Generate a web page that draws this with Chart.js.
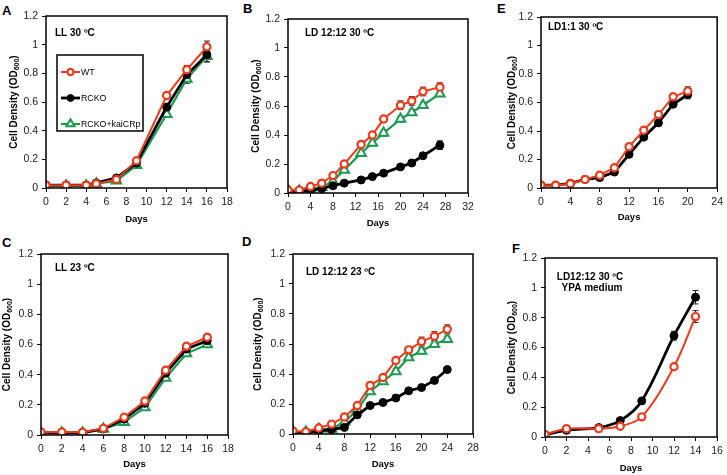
<!DOCTYPE html>
<html>
<head>
<meta charset="utf-8">
<script src="https://cdn.jsdelivr.net/npm/chart.js@4.4.1/dist/chart.umd.min.js"></script>
<style>
  body { margin: 0; background: #fff; }
  #wrap { position: relative; width: 727px; height: 475px; overflow: hidden; }
  #wrap canvas { position: absolute; }
  .tag { position: absolute; font: bold 13px "Liberation Sans", Arial, sans-serif; color: #000; }
</style>
</head>
<body>
<div id="wrap">
  <div class="tag" style="left:2px;top:3px">A</div>
  <div class="tag" style="left:243px;top:1px">B</div>
  <div class="tag" style="left:497px;top:1px">E</div>
  <div class="tag" style="left:2px;top:235px">C</div>
  <div class="tag" style="left:242px;top:234px">D</div>
  <div class="tag" style="left:512px;top:241px">F</div>
</div>
<script>
// A: LL 30 C
const daysA = [0, 2, 4, 5, 7, 9, 12, 14, 16];
const wtA   = [0.02, 0.02, 0.02, 0.03, 0.06, 0.19, 0.645, 0.825, 0.985];
const rckoA = [0.02, 0.02, 0.02, 0.035, 0.07, 0.175, 0.565, 0.79, 0.93];
const kaiA  = [0.015, 0.015, 0.015, 0.03, 0.05, 0.158, 0.515, 0.76, 0.92];
const wtErrA   = [0, 0, 0, 0, 0, 0.01, 0.02, 0.03, 0.04];
const rckoErrA = [0, 0, 0, 0, 0, 0.01, 0.02, 0.03, 0.05];
const kaiErrA  = [0, 0, 0, 0, 0, 0.01, 0.02, 0.03, 0.04];

// B: LD 12:12 30 C
const daysB = [0, 2, 4, 6, 8, 10, 13, 15, 17, 20, 22, 24, 27];
const wtB   = [0.02, 0.02, 0.045, 0.068, 0.12, 0.2, 0.335, 0.4, 0.51, 0.605, 0.635, 0.7, 0.73];
const rckoB = [0.01, 0.01, 0.02, 0.03, 0.05, 0.068, 0.09, 0.113, 0.137, 0.18, 0.207, 0.257, 0.33];
const kaiB  = [0.02, 0.015, 0.03, 0.04, 0.08, 0.158, 0.275, 0.345, 0.413, 0.51, 0.555, 0.605, 0.685];
const wtErrB   = [0, 0, 0, 0, 0, 0.01, 0.02, 0.02, 0.02, 0.03, 0.03, 0.03, 0.03];
const rckoErrB = [0, 0, 0, 0, 0, 0, 0, 0, 0, 0.01, 0.01, 0.01, 0.03];
const kaiErrB  = [0, 0, 0, 0, 0, 0.01, 0.01, 0.02, 0.02, 0.02, 0.02, 0.02, 0.02];

// E: LD1:1 30 C
const daysE = [0, 2, 4, 6, 8, 10, 12, 14, 16, 18, 20];
const wtE   = [0.02, 0.02, 0.03, 0.06, 0.09, 0.142, 0.29, 0.405, 0.515, 0.64, 0.68];
const rckoE = [0.02, 0.02, 0.033, 0.06, 0.073, 0.112, 0.236, 0.357, 0.457, 0.588, 0.656];
const wtErrE   = [0, 0, 0, 0, 0, 0, 0.01, 0.01, 0.01, 0.02, 0.03];
const rckoErrE = [0, 0, 0, 0, 0, 0, 0.01, 0.01, 0.01, 0.02, 0.03];

// C: LL 23 C
const daysC = [0, 2, 4, 6, 8, 10, 12, 14, 16];
const wtC   = [0.02, 0.02, 0.018, 0.044, 0.118, 0.225, 0.43, 0.588, 0.648];
const rckoC = [0.015, 0.015, 0.015, 0.04, 0.105, 0.21, 0.41, 0.57, 0.625];
const kaiC  = [0.015, 0.015, 0.015, 0.04, 0.085, 0.183, 0.378, 0.54, 0.6];
const wtErrC   = [0, 0, 0, 0, 0, 0, 0.01, 0.02, 0.02];
const rckoErrC = [0, 0, 0, 0, 0, 0, 0.01, 0.02, 0.02];
const kaiErrC  = [0, 0, 0, 0, 0, 0, 0.01, 0.02, 0.02];

// D: LD 12:12 23 C
const daysD = [0, 2, 4, 6, 8, 10, 12, 14, 16, 18, 20, 22, 24];
const wtD   = [0.02, 0.015, 0.04, 0.066, 0.113, 0.19, 0.324, 0.377, 0.49, 0.561, 0.616, 0.652, 0.698];
const rckoD = [0.01, 0.01, 0.02, 0.03, 0.044, 0.128, 0.19, 0.21, 0.24, 0.288, 0.31, 0.357, 0.43];
const kaiD  = [0.015, 0.015, 0.033, 0.033, 0.08, 0.162, 0.284, 0.35, 0.417, 0.51, 0.554, 0.599, 0.632];
const wtErrD   = [0, 0, 0, 0, 0, 0.01, 0.01, 0.01, 0.02, 0.02, 0.03, 0.03, 0.03];
const rckoErrD = [0, 0, 0, 0, 0, 0, 0, 0, 0, 0, 0, 0.01, 0.01];
const kaiErrD  = [0, 0, 0, 0, 0, 0.01, 0.01, 0.01, 0.02, 0.02, 0.02, 0.02, 0.02];

// F: LD12:12 30 C, YPA medium
const daysF = [0, 2, 5, 7, 9, 12, 14];
const wtF   = [0.016, 0.056, 0.056, 0.072, 0.135, 0.471, 0.807];
const rckoF = [0.016, 0.045, 0.063, 0.11, 0.242, 0.679, 0.937];
const wtErrF   = [0, 0, 0, 0, 0.01, 0.01, 0.04];
const rckoErrF = [0, 0, 0, 0, 0.01, 0.03, 0.045];

const yTicks = [0, 0.2, 0.4, 0.6, 0.8, 1, 1.2];
const seriesNames = ["WT", "RCKO", "RCKO+kaiCRp"];

const RED = "#ee3a1c";
const GREEN = "#1d9a52";
const BLACK = "#000000";
const FONT = '"Liberation Sans", Arial, sans-serif';

function pts(days, vals) {
    return days.map((d, i) => ({ x: d, y: vals[i] }));
}

function wtSet(days, vals, errs, smooth) {
    return {
        label: seriesNames[0], data: pts(days, vals), errors: errs,
        borderColor: RED, borderWidth: 2, backgroundColor: "#fff",
        pointStyle: "circle", pointRadius: 3.6, pointBorderWidth: 2.2, pointBorderColor: RED,
        tension: smooth ? 0.35 : 0
    };
}
function rckoSet(days, vals, errs, smooth) {
    return {
        label: seriesNames[1], data: pts(days, vals), errors: errs,
        borderColor: BLACK, borderWidth: 2.8, backgroundColor: BLACK,
        pointStyle: "circle", pointRadius: 4, pointBorderWidth: 1, pointBorderColor: BLACK,
        tension: smooth ? 0.35 : 0
    };
}
function kaiSet(days, vals, errs) {
    return {
        label: seriesNames[2], data: pts(days, vals), errors: errs,
        borderColor: GREEN, borderWidth: 2.2, backgroundColor: "#fff",
        pointStyle: "triangle", pointRadius: 5.5, pointBorderWidth: 2, pointBorderColor: GREEN,
        tension: 0
    };
}

// error bars, frame, y title with subscript, notes and the boxed legend
const decorPlugin = {
    id: "decor",
    beforeDatasetsDraw(chart) {
        const ctx = chart.ctx;
        const xs = chart.scales.x, ys = chart.scales.y;
        ctx.save();
        ctx.strokeStyle = "#222";
        ctx.lineWidth = 1;
        chart.data.datasets.forEach(ds => {
            if (!ds.errors) return;
            ds.data.forEach((p, i) => {
                const e = ds.errors[i];
                if (!e) return;
                const px = xs.getPixelForValue(p.x);
                const y1 = ys.getPixelForValue(p.y - e);
                const y2 = ys.getPixelForValue(p.y + e);
                ctx.beginPath();
                ctx.moveTo(px, y1); ctx.lineTo(px, y2);
                ctx.moveTo(px - 3, y1); ctx.lineTo(px + 3, y1);
                ctx.moveTo(px - 3, y2); ctx.lineTo(px + 3, y2);
                ctx.stroke();
            });
        });
        ctx.restore();
    },
    afterDraw(chart, args, opts) {
        const ctx = chart.ctx;
        const a = chart.chartArea;
        ctx.save();
        // frame
        ctx.strokeStyle = "#000";
        ctx.lineWidth = 1.5;
        ctx.strokeRect(a.left, a.top, a.right - a.left, a.bottom - a.top);

        // y axis title with subscript
        const main = "Cell Density (OD";
        const sub = "600";
        const close = ")";
        ctx.fillStyle = "#000";
        ctx.textBaseline = "middle";
        ctx.textAlign = "left";
        ctx.font = "bold 10px " + FONT;
        const w1 = ctx.measureText(main).width;
        const w3 = ctx.measureText(close).width;
        ctx.font = "bold 7px " + FONT;
        const w2 = ctx.measureText(sub).width;
        const total = w1 + w2 + w3;
        ctx.translate(a.left - opts.titleGap, (a.top + a.bottom) / 2);
        ctx.rotate(-Math.PI / 2);
        ctx.font = "bold 10px " + FONT;
        ctx.fillText(main, -total / 2, 0);
        ctx.font = "bold 7px " + FONT;
        ctx.fillText(sub, -total / 2 + w1, 3);
        ctx.font = "bold 10px " + FONT;
        ctx.fillText(close, -total / 2 + w1 + w2, 0);
        ctx.setTransform(1, 0, 0, 1, 0, 0);

        // notes
        ctx.font = "bold 10px " + FONT;
        ctx.textAlign = opts.noteAlign || "left";
        opts.notes.forEach(n => ctx.fillText(n.text, a.left + n.dx, a.top + n.dy));

        // legend box
        if (opts.legend) {
            const lx = a.left + 11, ly = a.top + 39, lw = 86, lh = 76;
            ctx.fillStyle = "#fff";
            ctx.fillRect(lx, ly, lw, lh);
            ctx.strokeStyle = "#000";
            ctx.lineWidth = 1.5;
            ctx.strokeRect(lx, ly, lw, lh);
            chart.data.datasets.forEach((ds, i) => {
                const yy = ly + 17 + i * 26;
                ctx.strokeStyle = ds.borderColor;
                ctx.lineWidth = ds.borderWidth;
                ctx.beginPath();
                ctx.moveTo(lx + 4, yy); ctx.lineTo(lx + 23, yy);
                ctx.stroke();
                ctx.fillStyle = ds.backgroundColor;
                ctx.strokeStyle = ds.pointBorderColor;
                ctx.lineWidth = ds.pointBorderWidth;
                Chart.helpers.drawPoint(ctx, {
                    pointStyle: ds.pointStyle, radius: ds.pointRadius * 0.85,
                    borderWidth: ds.pointBorderWidth, rotation: 0
                }, lx + 13.5, yy);
                ctx.fillStyle = "#000";
                ctx.font = "8.8px " + FONT;
                ctx.textAlign = "left";
                ctx.fillText(ds.label, lx + 24, yy + 0.5);
            });
        }
        ctx.restore();
    }
};

function makePanel(box, plot, daysY, xMax, xStep, datasets, notes, extra) {
    const [cx, cy, cw, ch] = box;
    const [l, t, r, b] = plot;
    const wy = l - cx;
    const hx = daysY - b + 5.4;
    const canvas = document.createElement("canvas");
    canvas.width = cw;
    canvas.height = ch;
    canvas.style.left = cx + "px";
    canvas.style.top = cy + "px";
    document.getElementById("wrap").appendChild(canvas);

    return new Chart(canvas.getContext("2d"), {
        type: "line",
        data: { datasets: datasets },
        plugins: [decorPlugin],
        options: {
            responsive: false,
            animation: false,
            devicePixelRatio: 1,
            layout: {
                padding: { left: 0, top: t - cy, right: cx + cw - r, bottom: Math.max(0, cy + ch - b - hx) }
            },
            plugins: {
                legend: { display: false },
                tooltip: { enabled: false },
                decor: Object.assign({ titleGap: 32, notes: notes, legend: false }, extra || {})
            },
            scales: {
                x: {
                    type: "linear", min: 0, max: xMax,
                    afterFit: s => { s.height = hx; },
                    ticks: { stepSize: xStep, padding: 4, color: "#222", font: { family: FONT, size: 10.5 } },
                    grid: { drawOnChartArea: false, drawTicks: true, tickLength: 4, color: "#000" },
                    border: { display: false },
                    title: { display: true, text: "Days", color: "#000", padding: 0, font: { family: FONT, size: 9.5, weight: "bold" } }
                },
                y: {
                    type: "linear", min: 0, max: 1.2,
                    afterFit: s => { s.width = wy; },
                    afterBuildTicks: s => { s.ticks = yTicks.map(v => ({ value: v })); },
                    ticks: { padding: 4, color: "#222", font: { family: FONT, size: 10.5 }, callback: v => String(+v.toFixed(1)) },
                    grid: { drawOnChartArea: false, drawTicks: true, tickLength: 4, color: "#000" },
                    border: { display: false }
                }
            }
        }
    });
}

makePanel([0, 0, 242, 237], [46, 16, 227, 188], 220, 18, 2,
    [wtSet(daysA, wtA, wtErrA), rckoSet(daysA, rckoA, rckoErrA), kaiSet(daysA, kaiA, kaiErrA)],
    [{ text: "LL 30 ºC", dx: 9, dy: 17 }], { legend: true });

makePanel([242, 0, 242, 237], [288, 19, 468, 193], 224, 32, 4,
    [wtSet(daysB, wtB, wtErrB), rckoSet(daysB, rckoB, rckoErrB), kaiSet(daysB, kaiB, kaiErrB)],
    [{ text: "LD 12:12 30 ºC", dx: 17, dy: 14 }]);

makePanel([484, 0, 243, 237], [541, 17, 718, 188], 218, 24, 4,
    [wtSet(daysE, wtE, wtErrE), rckoSet(daysE, rckoE, rckoErrE)],
    [{ text: "LD1:1 30 ºC", dx: 7, dy: 10 }], { titleGap: 29 });

makePanel([0, 237, 242, 238], [41, 254, 228, 435], 465, 18, 2,
    [wtSet(daysC, wtC, wtErrC), rckoSet(daysC, rckoC, rckoErrC), kaiSet(daysC, kaiC, kaiErrC)],
    [{ text: "LL 23 ºC", dx: 14, dy: 14 }], { titleGap: 34 });

makePanel([242, 237, 242, 238], [293, 254, 473, 434], 465, 28, 4,
    [wtSet(daysD, wtD, wtErrD), rckoSet(daysD, rckoD, rckoErrD), kaiSet(daysD, kaiD, kaiErrD)],
    [{ text: "LD 12:12 23 ºC", dx: 13, dy: 18 }], { titleGap: 35 });

makePanel([484, 237, 243, 238], [545, 258, 717, 437], 469, 16, 2,
    [wtSet(daysF, wtF, wtErrF, true), rckoSet(daysF, rckoF, rckoErrF, true)],
    [{ text: "LD12:12 30 ºC", dx: 45, dy: 19 }, { text: "YPA medium", dx: 47, dy: 30 }],
    { titleGap: 33, noteAlign: "center" });
</script>
</body>
</html>
